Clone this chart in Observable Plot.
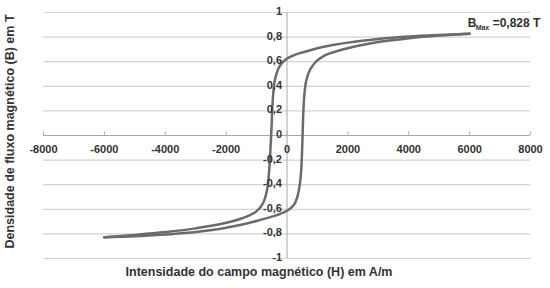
<!DOCTYPE html>
<html>
<head>
<meta charset="utf-8">
<script src="https://cdn.jsdelivr.net/npm/d3@7"></script>
<script src="https://cdn.jsdelivr.net/npm/@observablehq/plot@0.6"></script>
<style>
  html, body { margin: 0; padding: 0; background: #fff; }
  #chart svg { display: block; }
</style>
</head>
<body>
<div id="chart"></div>
<script>
// Tick values and labels
const xTicks = [-8000, -6000, -4000, -2000, 0, 2000, 4000, 6000, 8000];
const xTickLabels = ["-8000", "-6000", "-4000", "-2000", "0", "2000", "4000", "6000", "8000"];
const yTicks = [-1, -0.8, -0.6, -0.4, -0.2, 0, 0.2, 0.4, 0.6, 0.8, 1];
const yTickLabels = ["-1", "-0,8", "-0,6", "-0,4", "-0,2", "0", "0,2", "0,4", "0,6", "0,8", "1"];

// Descending branch (upper/left curve), H in A/m, B in T, listed by increasing H
const descH = [-6000, -5000, -4000, -3000, -2000, -1500, -1200, -1000, -850, -750, -680, -630, -590, -560, -530, -510, -490, -465, -430, -380, -300, -200, -100, 0, 200, 500, 1000, 1500, 2000, 3000, 4000, 5000, 6000];
const descB = [-0.828, -0.808, -0.785, -0.755, -0.71, -0.675, -0.645, -0.615, -0.575, -0.53, -0.47, -0.40, -0.30, -0.18, -0.05, 0.05, 0.18, 0.30, 0.40, 0.47, 0.535, 0.58, 0.605, 0.625, 0.65, 0.675, 0.71, 0.735, 0.755, 0.785, 0.805, 0.818, 0.828];

// Ascending branch (lower/right curve), listed by increasing H
const ascH = [-6000, -5000, -4000, -3000, -2000, -1500, -1000, -500, -200, 0, 150, 280, 370, 430, 470, 495, 512, 530, 555, 600, 670, 770, 950, 1200, 1500, 2000, 3000, 4000, 5000, 6000];
const ascB = [-0.828, -0.82, -0.805, -0.785, -0.75, -0.725, -0.695, -0.66, -0.635, -0.612, -0.585, -0.54, -0.47, -0.38, -0.27, -0.13, 0.0, 0.15, 0.28, 0.40, 0.48, 0.54, 0.60, 0.645, 0.675, 0.71, 0.76, 0.79, 0.812, 0.828];

// Annotation
const annotH = 6000;
const annotB = 0.828;
const annotMain = "B";
const annotSub = "Max";
const annotRest = "=0,828 T";

const xTitle = "Intensidade do campo magnético (H) em A/m";
const yTitle = "Densidade de fluxo magnético (B) em T";

const desc = descH.map((h, i) => ({H: h, B: descB[i]}));
const asc = ascH.map((h, i) => ({H: h, B: ascB[i]}));
const xt = xTicks.map((v, i) => ({v, label: xTickLabels[i]}));
const yt = yTicks.map((v, i) => ({v, label: yTickLabels[i]}));

const font = "'Liberation Sans', Arial, sans-serif";
const textColor = "#333333";
const curveColor = "#6b6b6b";

const chart = Plot.plot({
  width: 550,
  height: 288,
  marginLeft: 43,
  marginRight: 20,
  marginTop: 12,
  marginBottom: 30,
  style: {fontFamily: font, background: "#fff"},
  x: {domain: [-8000, 8000], axis: null},
  y: {domain: [-1, 1], axis: null},
  marks: [
    Plot.ruleY(yTicks, {stroke: "#d3d3d3", strokeWidth: 1.2}),
    Plot.ruleY([0], {stroke: "#a8a8a8", strokeWidth: 1}),
    Plot.ruleX([0], {stroke: "#a8a8a8", strokeWidth: 1}),
    Plot.ruleX(xTicks, {y1: 0, y2: 0.03, stroke: "#b0b0b0", strokeWidth: 1}),
    Plot.line(desc, {x: "H", y: "B", curve: "monotone-x", stroke: curveColor, strokeWidth: 2.5}),
    Plot.line(asc, {x: "H", y: "B", curve: "monotone-x", stroke: curveColor, strokeWidth: 2.5}),
    Plot.text(xt, {x: "v", y: () => 0, text: "label", dy: 14, fontSize: 11, fontWeight: "bold", fill: textColor}),
    Plot.text(yt, {x: () => 0, y: "v", text: "label", dx: -5, dy: -1, textAnchor: "end", fontSize: 11, fontWeight: "bold", fill: textColor}),
    Plot.text([annotMain], {x: () => annotH, y: () => annotB, text: d => d, textAnchor: "start", dx: -2, dy: -10, fontSize: 12, fontWeight: "bold", fill: textColor}),
    Plot.text([annotSub], {x: () => annotH, y: () => annotB, text: d => d, textAnchor: "start", dx: 6, dy: -6, fontSize: 7, fontWeight: "bold", fill: textColor}),
    Plot.text([annotRest], {x: () => annotH, y: () => annotB, text: d => d, textAnchor: "start", dx: 23, dy: -10, fontSize: 12, fontWeight: "bold", fill: textColor}),
    Plot.text([xTitle], {frameAnchor: "bottom", text: d => d, dx: -28, dy: 17, fontSize: 12.5, fontWeight: "bold", fill: textColor}),
    Plot.text([yTitle], {frameAnchor: "left", text: d => d, rotate: -90, textAnchor: "middle", dx: -34, dy: -4, fontSize: 12.5, fontWeight: "bold", fill: textColor})
  ]
});
document.getElementById("chart").appendChild(chart);
</script>
</body>
</html>
